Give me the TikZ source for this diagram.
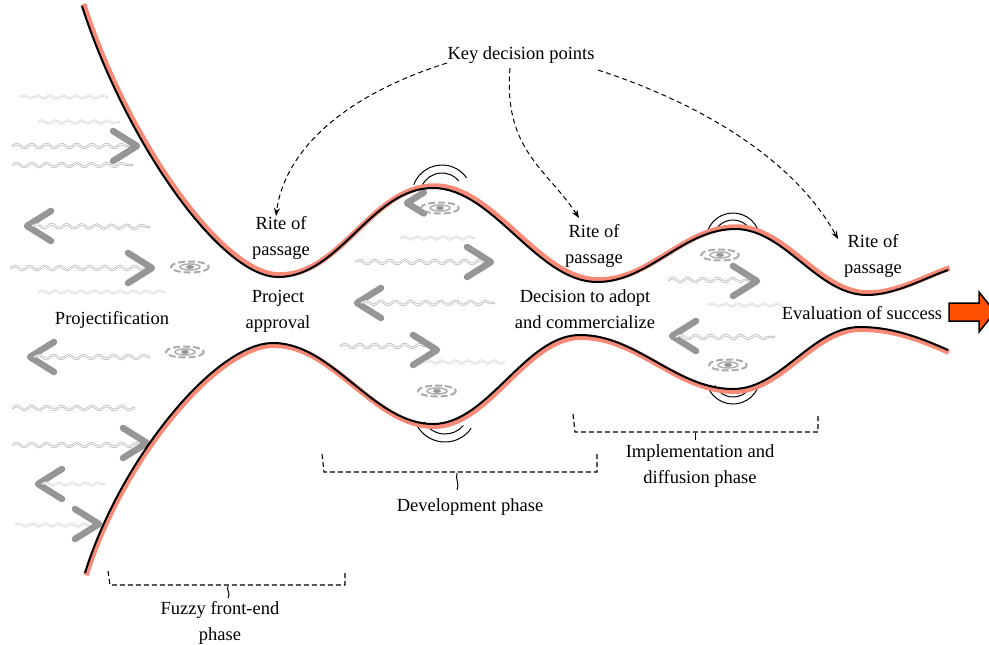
\documentclass[tikz,border=0pt]{standalone}
\usepackage{fontspec}
\setmainfont{Liberation Serif}
\usetikzlibrary{arrows.meta,decorations.pathmorphing}
\definecolor{shadowred}{RGB}{247,138,118}
\definecolor{arrorange}{RGB}{255,80,0}
\definecolor{decogray}{RGB}{150,150,150}
\newcommand\chR[3][1]{\draw[chev] ({#2-24*#1},{#3-15*#1}) -- (#2,#3) -- ({#2-24*#1},{#3+15*#1});}
\newcommand\chL[3][1]{\draw[chev] ({#2+24*#1},{#3-15*#1}) -- (#2,#3) -- ({#2+24*#1},{#3+15*#1});}
\newcommand\ripl[2]{%
  \draw[decogray!80, line width=2pt, dash pattern=on 7pt off 3pt] (#1,#2) ellipse (19 and 5.5);
  \draw[decogray!80, line width=1.4pt] (#1,#2) ellipse (10 and 3);
  \fill[decogray] (#1,#2) ellipse (4 and 2);}
\newcommand\topcurvepath{(82,6) .. controls (125,140) and (220,277) .. (278,277)
  .. controls (340,277) and (371,188) .. (433,188)
  .. controls (493,188) and (537,282) .. (597,282)
  .. controls (649,282) and (683,229) .. (735,229)
  .. controls (785,229) and (817,295) .. (867,295)
  .. controls (895,295) and (925,278) .. (948,270)}
\newcommand\botcurvepath{(85,573) .. controls (120,460) and (215,343) .. (273,343)
  .. controls (333,343) and (373,424) .. (433,424)
  .. controls (488,424) and (525,335) .. (580,335)
  .. controls (637,335) and (676,389) .. (733,389)
  .. controls (781,389) and (812,327) .. (860,327)
  .. controls (895,327) and (925,340) .. (948,350)}
\begin{document}
\begin{tikzpicture}[x=1pt,y=-1pt,
  font=\fontsize{18.5}{26}\selectfont,
  lbl/.style={align=center, inner sep=0pt},
  wv/.style={draw=decogray!70, double=white, double distance=0.9pt, line width=0.7pt,
     decorate, decoration={snake, amplitude=2pt, segment length=15pt}},
  wvf/.style={draw=decogray!45, double=white, double distance=0.8pt, line width=0.6pt,
     decorate, decoration={snake, amplitude=1.6pt, segment length=13pt}},
  chev/.style={draw=decogray, line width=6.5pt, line cap=round, line join=round},
  curveline/.style={draw=black, line width=2pt},
  curveshadow/.style={draw=shadowred, line width=5.5pt},
  kd/.style={line width=1pt, dash pattern=on 5pt off 3.5pt, -{Stealth[length=8pt,width=6pt]}},
  brk/.style={line width=1.1pt, dash pattern=on 5pt off 3pt},
  vib/.style={line width=1pt}
]
\clip (0,0) rectangle (989,645);
\fill[white] (0,0) rectangle (989,645);

% ---------- decorative gray arrows (left) ----------
\draw[wvf] (20,97) -- (108,97);
\draw[wvf] (38,122) -- (120,122);
\draw[wv] (12,146) -- (133,146); \chR{137}{146}
\draw[wv] (12,165) -- (133,165);
\chL{27}{226} \draw[wv] (32,226) -- (150,227);
\draw[wv] (10,268) -- (150,268); \chR{152}{268}
\ripl{190}{267}
\draw[wvf] (38,292) -- (165,292);
\chL{30}{357} \draw[wv] (34,357) -- (150,357);
\ripl{185}{352}
\draw[wv] (12,408) -- (135,408);
\draw[wv] (12,445) -- (145,445); \chR{147}{443}
\chL{38}{484} \draw[wvf] (42,484) -- (105,484);
\draw[wvf] (15,525) -- (95,525); \chR{99}{524}

% ---------- middle hump ----------
\chL[0.7]{407}{203}
\ripl{440}{208}
\draw[wvf] (400,238) -- (475,238);
\draw[wv] (355,262) -- (487,262); \chR{491}{262}
\chL{357}{303} \draw[wv] (361,303) -- (495,303);
\draw[wv] (340,346) -- (430,346); \chR{437}{350}
\draw[wvf] (425,362) -- (505,362);
\ripl{437}{391}

% ---------- right hump ----------
\ripl{720}{255}
\draw[wv] (668,280) -- (752,280); \chR{757}{281}
\draw[wvf] (708,305) -- (782,305);
\chL{672}{336} \draw[wv] (676,337) -- (775,337);
\ripl{728}{365}

% ---------- vibration arcs ----------
\draw[vib] (442,195) ++(-160:30) arc (-160:-35:30);
\draw[vib] (442,195) ++(-155:22) arc (-155:-40:22);
\draw[vib] (445,410) ++(160:32) arc (160:35:32);
\draw[vib] (445,410) ++(150:24) arc (150:40:24);
\draw[vib] (733,240) ++(-160:27) arc (-160:-25:27);
\draw[vib] (733,240) ++(-155:20) arc (-155:-30:20);
\draw[vib] (733,377) ++(160:27) arc (160:25:27);
\draw[vib] (733,377) ++(155:20) arc (155:30:20);

% ---------- main curves ----------
\begin{scope}[shift={(1.5,-2)}]
\draw[curveshadow] \topcurvepath;
\end{scope}
\draw[curveline] \topcurvepath;
\begin{scope}[shift={(1,2.2)}]
\draw[curveshadow] \botcurvepath;
\end{scope}
\draw[curveline] \botcurvepath;

% ---------- labels ----------
\node[lbl] (key) at (521,55) {Key decision points};
\node[lbl] (rp1) at (281,238) {Rite of\\passage};
\node[lbl] (pa) at (278,311) {Project\\approval};
\node[lbl] (rp2) at (594,246) {Rite of\\passage};
\node[lbl] (dec) at (585,309) {Decision to adopt\\and commercialize};
\node[lbl] (rp3) at (873,256) {Rite of\\passage};
\node[lbl] (eval) at (862,313) {Evaluation of success};
\node[lbl] (proj) at (112,320) {Projectification};
\node[lbl] (impl) at (700,466) {Implementation and\\diffusion phase};
\node[lbl] (dev) at (470,507) {Development phase};
\node[lbl] (fuzzy) at (220,623) {Fuzzy front-end\\phase};

% ---------- key decision arrows ----------
\coordinate (k1) at (447,63);
\coordinate (k2) at (510,68);
\coordinate (k3) at (598,70);
\coordinate (t1) at (276,216);
\coordinate (t2) at (579,218);
\coordinate (t3) at (838,239);
\draw[kd] (k1) .. controls (330,100) and (283,160) .. (t1);
\draw[kd] (k2) .. controls (503,150) and (548,170) .. (t2);
\draw[kd] (k3) .. controls (720,110) and (800,170) .. (t3);

% ---------- phase brackets ----------
\draw[brk] (108,571) -- (110,585) -- (345,585) -- (345,571);
\draw[line width=1pt] (228,586) .. controls (226,590) and (231,593) .. (228,598);
\draw[brk] (322,454) -- (324,472) -- (597,472) -- (597,454);
\draw[line width=1pt] (457,473) .. controls (455,479) and (460,484) .. (457,490);
\draw[brk] (573,414) -- (575,432) -- (818,432) -- (818,414);
\draw[line width=1pt] (695,433) -- (695,440);

% ---------- output arrow ----------
\draw[fill=arrorange, line width=1.5pt, line join=miter]
  (949,303) -- (979,303) -- (979,292) -- (995,312) -- (979,332) -- (979,321) -- (949,321) -- cycle;
\end{tikzpicture}
\end{document}
